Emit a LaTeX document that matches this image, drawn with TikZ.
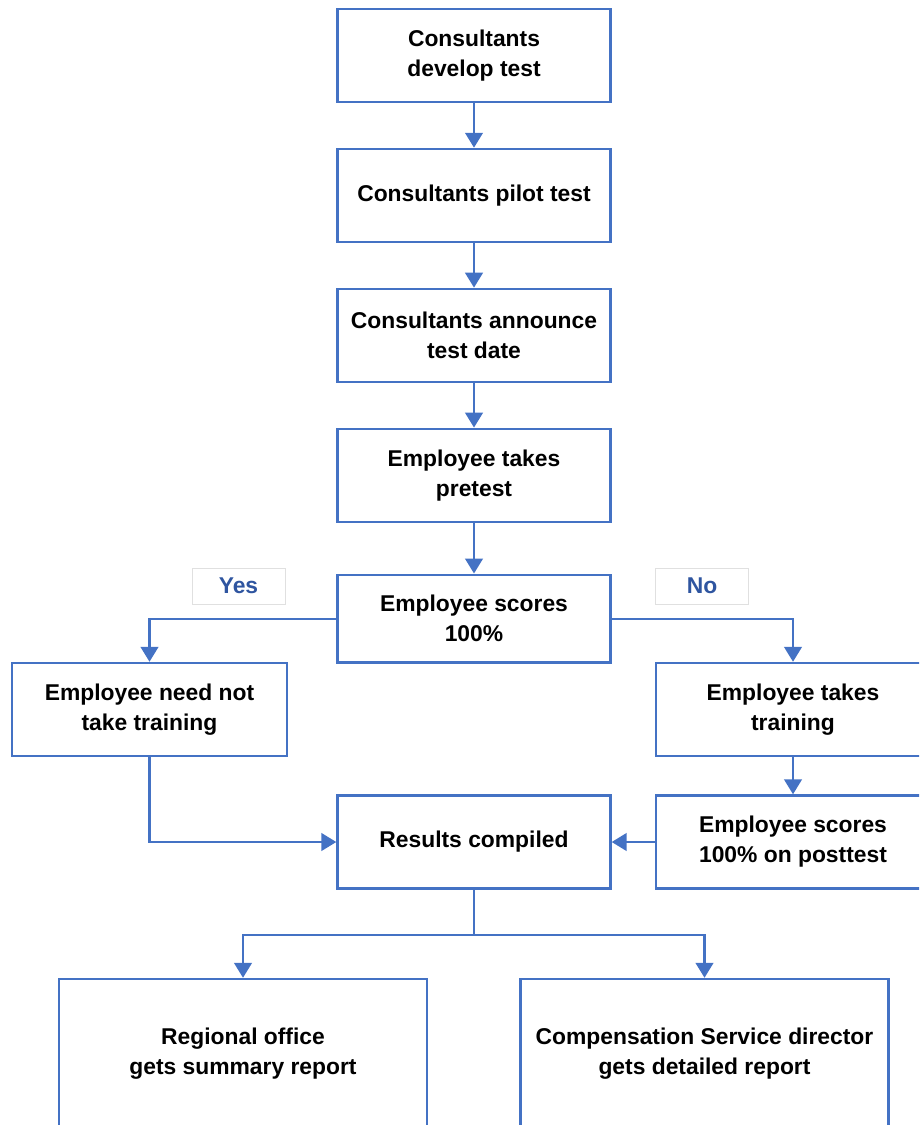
\documentclass[tikz,border=0pt]{standalone}
\usepackage{fontspec}
\setmainfont{Liberation Sans}
\usepackage{tikz}
\usetikzlibrary{positioning,arrows.meta}
\definecolor{flowblue}{RGB}{68,114,196}
\definecolor{labelblue}{RGB}{47,85,160}

\begin{document}
\begin{tikzpicture}[x=0.02cm, y=-0.02cm, node distance=0.89cm,
  every node/.style = {shape=rectangle, align=center},
  box/.style = {draw=flowblue, line width=1.4pt,
    minimum width=5.46cm, minimum height=1.86cm, inner sep=2pt,
    font=\bfseries\fontsize{13pt}{17pt}\selectfont},
  bigbox/.style = {box, minimum width=7.36cm, minimum height=3cm},
  answer/.style = {draw=black!12, fill=white, minimum width=1.86cm,
    minimum height=0.72cm, text=labelblue,
    font=\bfseries\fontsize{13pt}{15pt}\selectfont},
  link/.style = {draw=flowblue, line width=1.4pt,
    -{Triangle[width=10pt,length=8.5pt]}}
  ]
  \clip (0,0) rectangle (919,1125);

  % main column
  \node[box] (develop) at (474,55.5) {Consultants\\develop test};
  \node[box, below=of develop] (pilot) {Consultants pilot test};
  \node[box, below=of pilot] (announce) {Consultants announce\\test date};
  \node[box, below=of announce] (pretest) {Employee takes\\pretest};
  \node[box, minimum height=1.76cm, below=1.01cm of pretest] (scores) {Employee scores\\100\%};

  % yes / no branches
  \node[answer] (yes) at (238.5,586) {Yes};
  \node[answer] (no) at (702,586) {No};
  \node[box, minimum width=5.5cm] (notrain) at (149.5,709.5) {Employee need not\\take training};
  \node[box, minimum width=5.48cm] (train) at (793,709.5) {Employee takes\\training};
  \node[box, minimum width=5.48cm] (posttest) at (793,842) {Employee scores\\100\% on posttest};
  \node[box] (results) at (474,842) {Results compiled};

  % reports
  \coordinate (split) at (474,935);
  \node[bigbox] (regional) at (243,1054) {Regional office\\gets summary report};
  \node[bigbox] (director) at (704.5,1054) {Compensation Service director\\gets detailed report};

  \draw[link] (develop) -- (pilot);
  \draw[link] (pilot) -- (announce);
  \draw[link] (announce) -- (pretest);
  \draw[link] (pretest) -- (scores);
  \draw[link] (scores.west) -| (notrain.north);
  \draw[link] (scores.east) -| (train.north);
  \draw[link] (notrain.south) |- (results.west);
  \draw[link] (train) -- (posttest);
  \draw[link] (posttest) -- (results);
  \draw[draw=flowblue, line width=1.4pt] (results.south) -- (split);
  \draw[link] (split) -| (regional.north);
  \draw[link] (split) -| (director.north);
\end{tikzpicture}
\end{document}
